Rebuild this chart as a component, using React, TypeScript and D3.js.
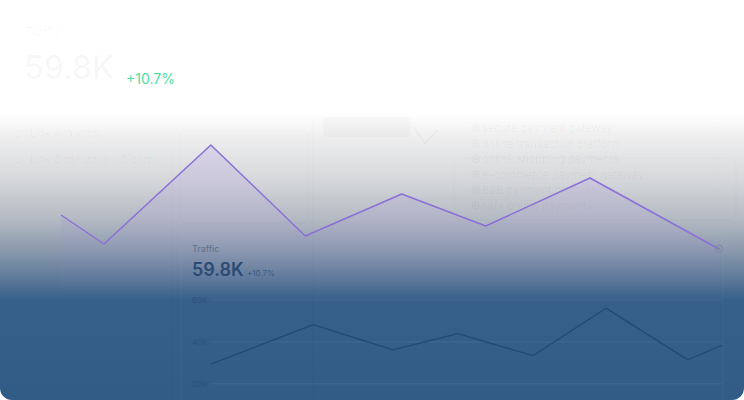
import React from 'react';
import * as d3 from 'd3';

// purple "clicks" series (x in days, y in arbitrary index units)
const purpleDays = [0, 0.66, 2.3, 3.75, 5.23, 6.52, 8.12, 10.1];
const purpleValues = [42.5, 28, 77.5, 32, 53, 37, 61, 25.5];

// traffic series (K)
const trafficDays = [0, 2, 3.56, 4.83, 6.3, 7.73, 9.33, 10];
const trafficValues = [29.4, 48.2, 36.2, 44.0, 33.4, 56.1, 31.4, 38.4];
const trafficTicks = [20, 40, 60];

// ghost UI texts behind the overlay
const leftList = [
  { n: '27', label: 'Link Analytics' },
  { n: '29', label: 'Link Optimization Wizard' },
];
const rightList = [
  'secure payment gateway',
  'online transaction platform',
  'online shopping payments',
  'e-commerce payment gateway',
  'B2B payment processing',
  'safe online payments',
];

const W = 744;
const H = 400;
const FONT = 'Inter, "Noto Sans", sans-serif';

export default function App() {
  const xPurple = d3.scaleLinear().domain([0, 10.1]).range([61, 719]);
  const yPurple = d3.scaleLinear().domain([0, 100]).range([300, 100]);

  const xTraffic = d3.scaleLinear().domain([0, 10]).range([211, 722]);
  const yTraffic = d3.scaleLinear().domain([0, 60]).range([425.7, 300]);

  const purplePts = purpleDays.map((d, i) => [d, purpleValues[i]] as [number, number]);
  const purpleLine = d3.line<[number, number]>()
    .x(d => xPurple(d[0]))
    .y(d => yPurple(d[1]))(purplePts);
  const purpleArea = d3.area<[number, number]>()
    .x(d => xPurple(d[0]))
    .y0(H)
    .y1(d => yPurple(d[1]))(purplePts);

  const trafficPts = trafficDays.map((d, i) => [d, trafficValues[i]] as [number, number]);
  const trafficLine = d3.line<[number, number]>()
    .x(d => xTraffic(d[0]))
    .y(d => yTraffic(d[1]))(trafficPts);

  const last = purplePts[purplePts.length - 1];

  return (
    <div style={{ position: 'fixed', left: 0, top: 0 }}>
      <svg width={W} height={H} style={{ display: 'block' }} fontFamily={FONT}>
        <defs>
          <linearGradient id="bg" gradientUnits="userSpaceOnUse" x1="0" y1="0" x2="0" y2={H}>
            <stop offset="0.285" stopColor="#ffffff" />
            <stop offset="0.34" stopColor="#efeff0" />
            <stop offset="0.45" stopColor="#d5d7da" />
            <stop offset="0.55" stopColor="#b3b9c2" />
            <stop offset="0.62" stopColor="#8e9caf" />
            <stop offset="0.69" stopColor="#627c9b" />
            <stop offset="0.75" stopColor="#365f89" />
            <stop offset="1" stopColor="#325c86" />
          </linearGradient>
          <linearGradient id="purpleFill" gradientUnits="userSpaceOnUse" x1="0" y1="140" x2="0" y2="300">
            <stop offset="0" stopColor="#9b7fe0" stopOpacity="0.22" />
            <stop offset="1" stopColor="#9b7fe0" stopOpacity="0" />
          </linearGradient>
        </defs>

        <rect x={0} y={0} width={W} height={H} fill="#ffffff" />
        <rect x={0} y={-20} width={W} height={H + 20} rx={12} fill="url(#bg)" />

        {/* ghost dashboard, mostly washed out */}
        <g fill="#000" fillOpacity={0.035}>
          <text x={25} y={36} fontSize={12}>Traffic</text>
          <text x={24} y={79} fontSize={32} fontWeight={500}>59.8K</text>
        </g>
        <g fill="none" stroke="#000" strokeOpacity={0.02}>
          <line x1={172} x2={172} y1={150} y2={H} />
          <line x1={313} x2={313} y1={118} y2={H} />
          <rect x={180} y={130} width={128} height={93} rx={6} />
          <rect x={454} y={158} width={282} height={62} rx={6} />
          <path d="M413,127 L425,143 L438,130" strokeOpacity={0.04} strokeWidth={1.2} />
        </g>
        <rect x={323} y={117} width={88} height={20} rx={5} fill="#000" fillOpacity={0.02} />
        <g fill="#000" fillOpacity={0.04} fontSize={10.5}>
          {leftList.map((d, i) => (
            <g key={d.label}>
              <text x={16} y={137 + i * 26} fontSize={8}>{d.n}</text>
              <text x={30} y={137 + i * 26}>{d.label}</text>
            </g>
          ))}
        </g>
        <g fill="#000" fillOpacity={0.045} fontSize={11}>
          {rightList.map((d, i) => (
            <g key={d}>
              <circle cx={475.5} cy={128 + i * 15.5} r={3.6} fill="none" stroke="#000" strokeOpacity={0.05} strokeWidth={0.8} />
              <circle cx={475.5} cy={128 + i * 15.5} r={1.4} />
              <text x={482} y={132 + i * 15.5}>{d}</text>
              <text x={713} y={131 + i * 15.5} fontSize={9}>···</text>
            </g>
          ))}
        </g>

        {/* green change label */}
        <text x={126} y={84} fontSize={14} fill="#4ddf9f">+10.7%</text>

        {/* purple series */}
        <path d={purpleArea ?? ''} fill="url(#purpleFill)" />
        <path d={purpleLine ?? ''} fill="none" stroke="#8b6fd8" strokeWidth={1.5} strokeLinejoin="round" />
        <circle cx={xPurple(last[0])} cy={yPurple(last[1])} r={3.8} fill="none" stroke="#7e86a4" strokeWidth={1} />
        <circle cx={xPurple(last[0])} cy={yPurple(last[1])} r={1.4} fill="#7e86a4" />

        {/* traffic card */}
        <rect x={181} y={234} width={542} height={200} rx={8} fill="none" stroke="#ffffff" strokeOpacity={0.04} />
        <text x={192} y={252} fontSize={9} fill="#5e718c">Traffic</text>
        <text x={192} y={276} fontSize={18} fontWeight={600} fill="#2b4b72">59.8K</text>
        <text x={247} y={276} fontSize={8} fill="#3d5a7f">+10.7%</text>

        <g>
          {trafficTicks.map(t => (
            <g key={t}>
              <line x1={211} x2={722} y1={yTraffic(t)} y2={yTraffic(t)} stroke="#ffffff" strokeOpacity={0.07} />
              <text x={192} y={yTraffic(t) + 3} fontSize={8} fill="#2c5380">{t}K</text>
            </g>
          ))}
        </g>
        <path d={trafficLine ?? ''} fill="none" stroke="#214a76" strokeWidth={1.3} strokeLinejoin="round" />
      </svg>
    </div>
  );
}
